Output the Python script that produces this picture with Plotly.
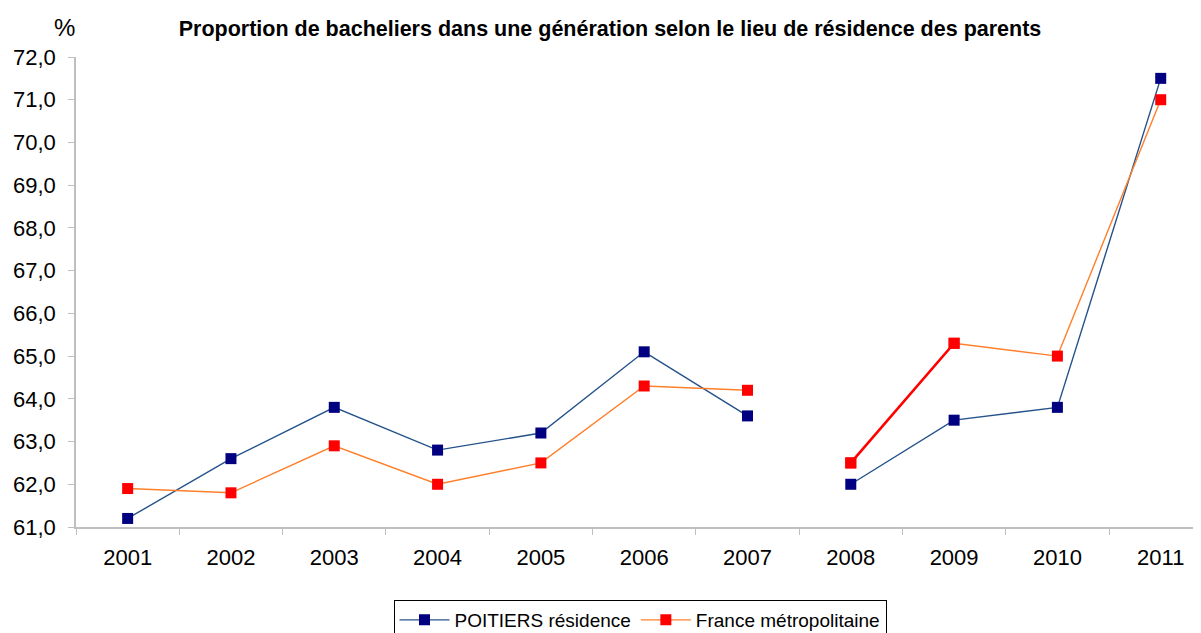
import plotly.graph_objects as go

years = ["2001", "2002", "2003", "2004", "2005", "2006", "2007", "2008", "2009", "2010", "2011"]
poitiers = [61.2, 62.6, 63.8, 62.8, 63.2, 65.1, 63.6, 62.0, 63.5, 63.8, 71.5]
france = [61.9, 61.8, 62.9, 62.0, 62.5, 64.3, 64.2, 62.5, 65.3, 65.0, 71.0]
y_ticks = [61, 62, 63, 64, 65, 66, 67, 68, 69, 70, 71, 72]

# break in the series between 2007 and 2008
def with_gap(vals):
    xs, ys = [], []
    for x, v in zip(years, vals):
        xs.append(x)
        ys.append(v)
        if x == "2007":
            xs.append(None)
            ys.append(None)
    return xs, ys

px_, py_ = with_gap(poitiers)
fx_, fy_ = with_gap(france)

fig = go.Figure()
fig.add_trace(go.Scatter(
    x=px_, y=py_, mode="lines+markers", name="POITIERS résidence",
    line=dict(color="#24528A", width=1.4),
    marker=dict(symbol="square", size=11, color="#000080"),
    connectgaps=False,
))
fig.add_trace(go.Scatter(
    x=fx_, y=fy_, mode="lines+markers", name="France métropolitaine",
    line=dict(color="#FF7F2A", width=1.4),
    marker=dict(symbol="square", size=11, color="#FF0000"),
    connectgaps=False,
))
# highlighted segment 2008-2009 for France
fig.add_trace(go.Scatter(
    x=years[7:9], y=france[7:9], mode="lines+markers", showlegend=False,
    line=dict(color="#FF0000", width=2.6),
    marker=dict(symbol="square", size=11, color="#FF0000"), hoverinfo="skip",
))

W, H = 1193, 625   # page body has an 8px margin
L, T, B = 68, 49, 106
PH = H - T - B

fig.update_layout(
    width=W, height=H,
    margin=dict(l=L, r=0, t=T, b=B, autoexpand=False),
    paper_bgcolor="white", plot_bgcolor="white",
    separators=", ",
    font=dict(family="Liberation Sans, Arial, sans-serif", color="black"),
    title=dict(
        text="<b>Proportion de bacheliers dans une génération selon le lieu de résidence des parents</b>",
        xref="container", yref="container", x=602/W, y=1-20/H,
        xanchor="center", yanchor="middle", font=dict(size=21.5, color="black"),
    ),
    showlegend=True,
    legend=dict(
        orientation="h", xref="container", yref="container",
        x=632/W, y=1-592/H, xanchor="center", yanchor="top",
        bordercolor="black", borderwidth=1, font=dict(size=19),
        itemwidth=50,
    ),
    annotations=[dict(text="%", xref="paper", yref="paper",
                      x=(56-L)/(W-L), y=(H-B-19)/PH,
                      xanchor="center", yanchor="middle", showarrow=False,
                      font=dict(size=24, color="black"))],
)

fig.update_xaxes(
    type="category", categoryorder="array", categoryarray=years,
    range=[-0.5, 10.39], showline=True, linecolor="#BFBFBF", linewidth=1.5,
    ticks="outside", tickson="boundaries", ticklen=6, tickcolor="#BFBFBF",
    showgrid=False, tickfont=dict(size=22), zeroline=False, ticklabelstandoff=10,
)
fig.update_yaxes(
    range=[61, 72], tickmode="array", tickvals=y_ticks,
    tickformat=".1f", showline=True, linecolor="#BFBFBF", linewidth=1.5,
    ticks="outside", ticklen=6, tickcolor="#BFBFBF", showgrid=False,
    tickfont=dict(size=22), zeroline=False, ticklabelstandoff=8,
)

fig.write_html("out.html")
